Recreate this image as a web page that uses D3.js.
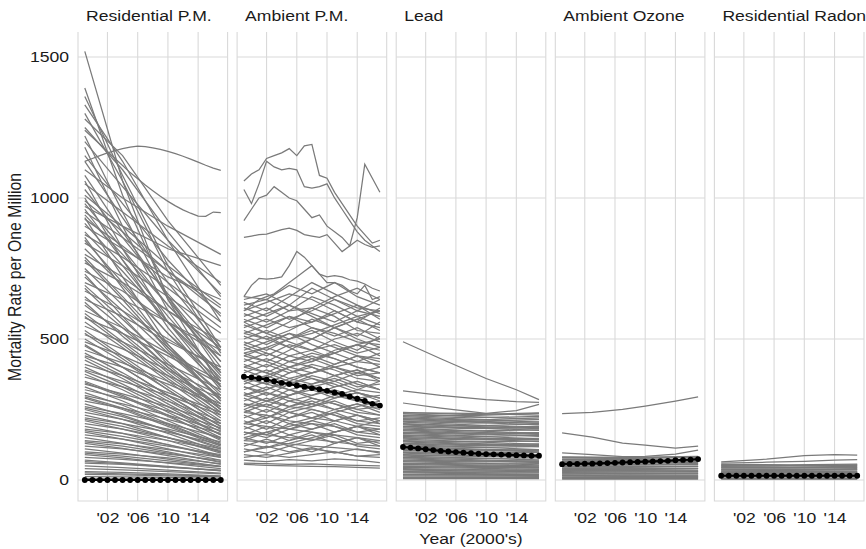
<!DOCTYPE html>
<html><head><meta charset="utf-8">
<script src="https://cdn.jsdelivr.net/npm/d3@7"></script>
<style>
body{margin:0;background:#fff}
svg{display:block}
text{font-family:"Liberation Sans",Arial,Helvetica,sans-serif}
</style>
</head><body>
<svg id="c" width="866" height="549"></svg>
<script>
// ---------------- DATA ----------------
const years = [1999,2000,2001,2002,2003,2004,2005,2006,2007,2008,2009,2010,2011,2012,2013,2014,2015,2016,2017];
const panelNames = ["Residential P.M.","Ambient P.M.","Lead","Ambient Ozone","Residential Radon"];
const xTickYears = [2002,2006,2010,2014];
const xTickLabels = ["'02","'06","'10","'14"];
const yTicks = [0,500,1000,1500];
const yTickLabels = ["0","500","1000","1500"];

// Residential P.M. — country lines read at 1999, 2004, 2010, 2017
const resPMYears = [1999,2004,2010,2017];
const resPM = [
[1520,1060,640,330],[1390,1010,650,380],[1360,1080,760,470],[1330,1130,850,560],[1300,1060,740,450],
[1280,1150,920,690],[1220,950,640,400],[1200,1040,850,660],[1150,980,780,580],[1130,930,700,470],
[1100,1000,900,800],[1080,880,650,420],[1050,950,830,700],[1030,860,660,460],[1010,900,760,620],
[990,880,740,590],[980,820,620,420],[970,900,820,760],[960,780,580,370],[950,860,740,610],
[940,800,620,440],[925,830,700,560],[910,760,560,360],[900,820,720,640],[880,740,560,380],
[870,790,680,540],[850,700,520,330],[840,760,650,520],[820,690,520,350],[800,720,600,470],
[790,650,480,300],[770,700,600,490],[750,620,470,310],[740,670,560,440],[720,600,450,290],
[700,640,560,460],[690,570,420,270],[670,600,500,390],[650,540,400,260],[640,580,490,400],
[620,520,390,250],[600,540,450,350],[590,490,370,240],[575,520,440,340],[560,470,350,220],
[545,490,410,320],[530,440,330,210],[515,465,390,300],[500,420,320,200],[490,440,370,290],
[475,400,300,190],[460,415,350,270],[450,380,290,180],[440,400,340,260],[425,360,270,170],
[410,370,310,240],[400,340,260,160],[390,350,300,230],[375,320,240,150],[365,330,280,210],
[350,300,230,140],[340,305,260,200],[330,280,210,130],[320,290,245,185],[310,265,200,125],
[300,270,230,175],[290,250,190,120],[280,255,215,165],[270,230,175,110],[260,235,200,150],
[250,215,165,100],[240,215,180,135],[230,200,150,95],[220,200,170,125],[210,180,140,85],
[200,180,150,110],[190,165,125,80],[180,165,140,105],[170,145,110,70],[160,145,120,90],
[150,130,100,62],[140,128,108,80],[130,112,86,55],[120,110,92,70],[110,95,74,48],
[100,92,78,58],[90,78,60,40],[80,73,62,47],[70,61,48,32],[60,55,46,35],
[50,44,35,24],[40,36,30,22],[30,27,22,15],[20,18,15,11],[12,11,9,6],[5,4,3,2],
[1250,1100,880,650],[1180,900,600,350],[1060,820,560,330],[1000,780,540,320],[930,720,480,280],
[860,680,470,280],[780,640,460,290],[730,580,410,250],[680,550,400,250],[630,510,380,240],
[580,480,360,230],[520,430,320,200],[480,400,300,190],[435,370,280,180],[385,330,250,160],
[345,295,225,145],[295,255,195,125],[255,225,175,115],[215,190,150,100],[175,155,125,85],
[135,120,95,65],[95,85,68,48],[65,58,46,33],[25,22,18,13]
];
// Residential P.M. — lines read every year
const resPMFull = [
[1130,1140,1150,1160,1168,1175,1180,1184,1182,1178,1172,1165,1157,1148,1138,1127,1116,1106,1098],
[1240,1215,1190,1165,1140,1115,1090,1068,1046,1026,1006,988,972,958,946,936,935,950,948]
];
const resPMMean = [0,0,0,0,0,0,0,0,0,0,0,0,0,0,0,0,0,0,0];

// Ambient P.M. — country lines read every third year
const ambPMYears = [1999,2002,2005,2008,2011,2014,2017];
const ambPM = [
[650,640,690,660,700,650,620],[640,660,620,680,640,600,640],[630,600,650,700,660,620,590],
[620,640,600,610,650,680,640],[610,580,620,590,560,600,580],[600,630,660,640,600,560,610],
[590,560,600,650,620,580,550],[580,610,570,600,640,610,600],[570,540,580,560,590,620,570],
[560,590,620,580,540,570,600],[550,520,560,610,580,530,520],[540,570,540,560,600,560,540],
[530,500,530,570,540,510,560],[520,550,580,540,510,540,500],[510,480,520,500,540,570,530],
[500,530,500,540,520,490,480],[490,460,500,530,490,460,510],[480,510,470,500,540,500,470],
[470,440,480,460,500,520,490],[460,490,520,480,450,480,460],[450,420,460,500,470,440,430],
[440,470,440,460,480,450,470],[430,400,440,420,460,480,440],[420,450,420,440,410,440,420],
[410,380,420,450,430,400,380],[400,430,400,420,450,420,410],[390,360,400,380,410,440,400],
[380,410,380,400,370,390,360],[370,340,380,410,390,360,350],[360,390,360,380,400,370,380],
[350,320,360,340,370,390,350],[340,370,340,360,330,350,320],[330,300,340,370,350,320,310],
[320,350,320,340,360,330,340],[310,280,320,300,330,350,320],[300,330,300,320,290,310,290],
[290,260,300,330,310,280,270],[280,310,280,300,320,290,300],[270,240,280,260,290,310,280],
[260,290,260,280,250,270,250],[250,220,260,290,270,240,230],[240,270,240,260,280,250,260],
[230,200,240,220,250,270,240],[220,250,220,240,210,230,210],[210,180,220,250,230,200,190],
[200,230,200,220,240,210,220],[190,160,200,180,210,230,200],[180,210,180,200,170,190,170],
[170,150,180,210,190,160,150],[160,190,160,180,200,170,180],[150,130,160,140,170,190,160],
[140,170,140,160,130,150,130],[130,115,140,170,150,120,110],[120,145,120,140,160,130,140],
[110,95,120,100,130,150,120],[100,120,100,115,95,110,95],[90,80,95,110,100,85,80],
[80,90,80,90,100,85,90],[70,65,72,68,75,70,62],[60,58,55,57,54,52,50],[55,52,50,48,47,45,42],
[560,520,490,460,430,400,380],[520,500,470,430,400,380,360],[480,450,420,400,370,340,320],
[440,420,390,360,340,310,290],[400,380,350,330,300,280,260],[360,340,320,290,270,250,230],
[330,310,290,270,250,230,210],[300,280,260,250,230,210,200],[270,260,240,220,210,190,180],
[240,230,210,200,190,170,160],[200,190,180,170,160,150,140],[170,160,150,145,135,125,120],
[140,135,128,120,115,108,100],[300,320,350,380,400,420,450],[250,280,300,330,350,380,400],
[200,220,250,270,300,320,350],[150,170,190,210,240,260,280],[350,370,400,430,450,480,500],
[450,470,500,520,550,580,600],[100,115,130,150,170,190,210]
];
// Ambient P.M. — lines read every year
const ambPMFull = [
[1060,1085,1100,1140,1150,1160,1175,1150,1185,1190,1080,1070,1020,980,940,900,870,840,850],
[1030,980,1050,1130,1110,1100,1105,1100,1040,1035,1040,1050,1000,960,920,880,850,830,810],
[920,960,1000,1010,1040,1020,1000,990,960,930,940,900,880,860,830,930,1120,1070,1020],
[860,865,870,872,880,888,893,885,870,865,860,870,840,810,830,850,835,825,830],
[650,690,715,712,715,720,760,810,790,760,730,720,725,720,710,705,695,680,670],
[600,620,640,650,660,680,700,720,740,760,730,700,700,690,670,660,690,640,650]
];
const ambPMMean = [366,364,360,356,350,344,340,335,331,326,322,316,310,305,296,288,280,270,264];

// Lead
const leadYears = [1999,2008,2017];
const lead = [
[240,232,238],[235,225,215],[230,228,236],[225,215,205],[220,212,220],[215,205,195],
[210,208,214],[205,195,185],[200,192,198],[195,185,176],[190,186,190],[185,175,165],
[180,174,178],[175,165,155],[170,165,168],[165,156,146],[160,155,158],[155,146,136],
[150,146,148],[145,136,126],[140,135,138],[135,126,118],[130,125,128],[125,117,108],
[120,116,118],[115,108,100],[110,106,108],[105,98,90],[100,96,98],[95,88,80],
[90,86,88],[85,78,71],[80,77,78],[75,69,62],[70,67,68],[65,60,54],[60,57,58],
[55,51,46],[50,48,49],[45,42,38],[40,38,39],[35,32,29],[30,29,29],[25,23,21],
[20,19,19],[15,14,13],[10,10,10],[5,5,5],
[238,236,230],[228,220,226],[218,210,200],[208,202,206],[198,190,182],[188,182,186],
[178,170,162],[168,162,164],[158,150,142],[148,142,144],[138,130,122],[128,122,124],
[118,110,104],[108,102,104],[98,92,86],[88,84,84],[78,72,66],[68,64,64],[58,54,50],
[48,45,44],[38,35,33],[28,26,25],[18,17,16],[8,8,8]
];
const leadOutYears = [1999,2004,2010,2014,2017];
const leadOut = [
[490,430,360,320,285],[316,300,285,278,275],[273,255,236,246,268]
];
const leadMean = [117,115,112,109,106,103,101,99,97,95,93,92,91,90,89,88,87,86,86];

// Ambient Ozone
const ozoneYears = [1999,2008,2017];
const ozone = [
[82,80,84],[78,76,80],[74,72,70],[70,69,72],[66,64,62],[62,61,64],[58,57,55],
[54,53,56],[50,49,48],[46,45,47],[42,41,40],[38,37,39],[34,33,32],[30,29,30],
[26,25,24],[22,21,22],[18,17,17],[14,13,13],[10,10,10],[6,6,6],[3,3,3],
[80,78,82],[72,70,74],[64,63,66],[56,55,58],[48,47,49],[40,39,41],[32,31,32],
[24,23,24],[16,15,15],[8,8,8]
];
const ozoneOutYears = [1999,2003,2007,2010,2014,2017];
const ozoneOut = [
[235,240,250,262,280,295],[167,152,131,124,113,120],[96,90,83,84,92,106]
];
const ozoneMean = [56,57,57,58,58,59,60,61,62,63,64,65,66,67,68,70,71,72,74];

// Residential Radon
const radonYears = [1999,2008,2017];
const radon = [
[55,54,56],[51,50,52],[47,46,48],[43,42,44],[39,38,40],[35,34,36],[31,30,31],
[27,26,27],[23,22,23],[19,18,19],[15,15,15],[11,11,11],[7,7,7],[3,3,3],
[53,52,54],[45,44,46],[37,36,38],[29,28,29],[21,20,21],[13,13,13],[5,5,5]
];
const radonOutYears = [1999,2005,2010,2014,2017];
const radonOut = [
[64,74,86,90,88],[60,63,66,70,72]
];
const radonMean = [15,15,15,15,15,15,15,15,15,15,15,15,15,15,15,15,15,15,15];

// ---------------- BUILD ----------------
const panelData = [
  {groups:[{yrs:resPMYears,lines:resPM},{yrs:years,lines:resPMFull}], mean:resPMMean},
  {groups:[{yrs:ambPMYears,lines:ambPM},{yrs:years,lines:ambPMFull}], mean:ambPMMean},
  {groups:[{yrs:leadYears,lines:lead},{yrs:leadOutYears,lines:leadOut}], mean:leadMean},
  {groups:[{yrs:ozoneYears,lines:ozone},{yrs:ozoneOutYears,lines:ozoneOut}], mean:ozoneMean},
  {groups:[{yrs:radonYears,lines:radon},{yrs:radonOutYears,lines:radonOut}], mean:radonMean}
];

const SX = 1.15;           // horizontal text stretch of the reference
const FONT = 15.3;
const panelLeft = 78, panelW = 149.6, panelStep = 159.1, panelTop = 32, panelBottom = 501;
const gridColor = "#d9d9d9";
const lineColor = "#7a7a7a";

const svg = d3.select("#c");
svg.append("rect").attr("width",866).attr("height",549).attr("fill","#fff");

const y = d3.scaleLinear().domain([-74.5,1588.5]).range([panelBottom,panelTop]);

panelNames.forEach((name,i)=>{
  const x0 = panelLeft + i*panelStep;
  const x = d3.scaleLinear().domain([1998.1,2017.9]).range([x0,x0+panelW]);
  const g = svg.append("g");

  // grid
  g.selectAll("line.hg").data(yTicks).join("line").attr("class","hg")
    .attr("x1",x0).attr("x2",x0+panelW).attr("y1",d=>y(d)).attr("y2",d=>y(d))
    .attr("stroke",gridColor).attr("stroke-width",1.1);
  g.selectAll("line.vg").data(xTickYears).join("line").attr("class","vg")
    .attr("x1",d=>x(d)).attr("x2",d=>x(d)).attr("y1",panelTop).attr("y2",panelBottom)
    .attr("stroke",gridColor).attr("stroke-width",1.1);
  // border (left, right, bottom)
  g.append("path")
    .attr("d",`M${x0},${panelTop}V${panelBottom}H${x0+panelW}V${panelTop}`)
    .attr("fill","none").attr("stroke",gridColor).attr("stroke-width",1.1);

  // grey country lines
  const line = d3.line().x(d=>x(d[0])).y(d=>y(d[1]));
  const gl = g.append("g").attr("fill","none").attr("stroke",lineColor).attr("stroke-width",1.25);
  panelData[i].groups.forEach(gr=>{
    gr.lines.forEach(vals=>{
      gl.append("path").attr("d", line(vals.map((v,k)=>[gr.yrs[k],v])));
    });
  });

  // mean line with points
  const mean = years.map((yr,k)=>[yr,panelData[i].mean[k]]);
  g.append("path").attr("d",line(mean)).attr("fill","none").attr("stroke","#000").attr("stroke-width",2.2);
  g.selectAll("circle").data(mean).join("circle")
    .attr("cx",d=>x(d[0])).attr("cy",d=>y(d[1])).attr("r",2.9).attr("fill","#000");

  // x axis
  const ax = g.append("g").attr("transform",`translate(0,${panelBottom})`)
    .call(d3.axisBottom(x).tickValues(xTickYears).tickFormat((d,k)=>xTickLabels[k]).tickSize(0).tickPadding(11.2));
  ax.select(".domain").remove();
  ax.attr("font-size",FONT).attr("font-family",null);
  ax.selectAll("text").attr("fill","#1a1a1a").attr("transform",`scale(${SX},1)`);

  // strip label
  g.append("text").attr("x",x0+8).attr("y",21).attr("font-size",FONT).attr("fill","#1a1a1a")
    .attr("transform",`translate(${x0+8},0) scale(${SX},1) translate(${-(x0+8)},0)`)
    .text(name);

  if(i===0){
    const ay = g.append("g").attr("transform",`translate(${x0},0)`)
      .call(d3.axisLeft(y).tickValues(yTicks).tickFormat((d,k)=>yTickLabels[k]).tickSize(0).tickPadding(7.8));
    ay.select(".domain").remove();
    ay.attr("font-size",FONT).attr("font-family",null);
    ay.selectAll("text").attr("fill","#1a1a1a").attr("transform",`scale(${SX},1)`);
  }
});

// axis titles
svg.append("text").attr("x",471).attr("y",544).attr("text-anchor","middle")
  .attr("font-size",FONT).attr("fill","#1a1a1a")
  .attr("transform",`translate(471,0) scale(${SX},1) translate(-471,0)`)
  .text("Year (2000's)");
svg.append("text").attr("text-anchor","start").attr("font-size",15.8).attr("fill","#1a1a1a")
  .attr("transform",`translate(20.5,381) scale(${SX},1) rotate(-90)`)
  .text("Mortality Rate per One Million");
</script>
</body></html>
